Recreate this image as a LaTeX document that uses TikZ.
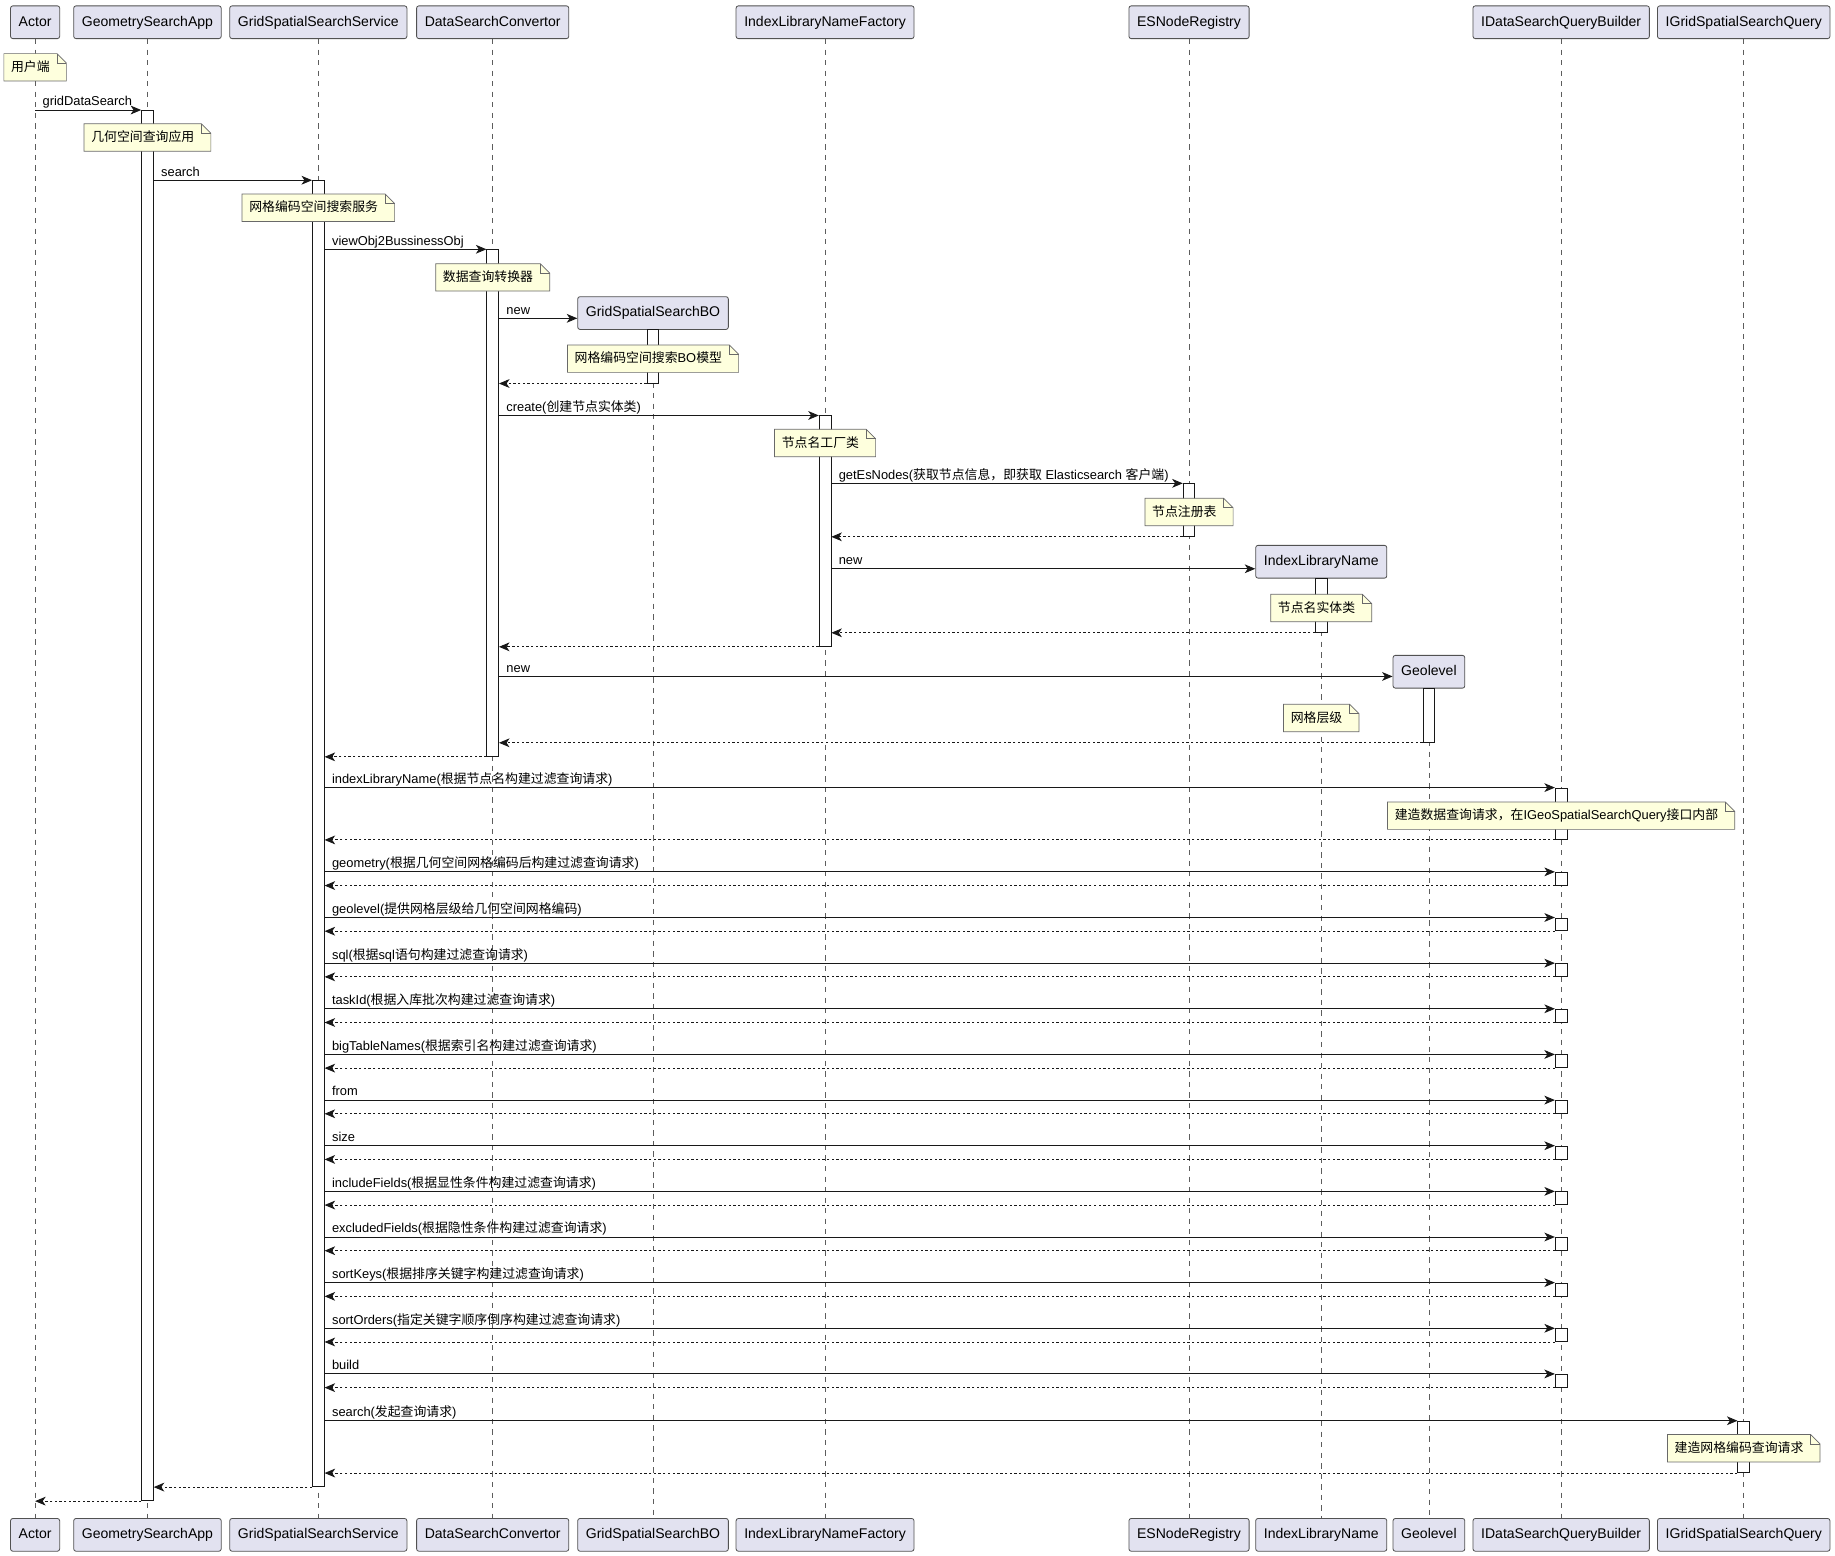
\documentclass[tikz,border=0pt]{standalone}
\usepackage{fontspec}
\setmainfont{Liberation Sans}
\newfontfamily\cjk{Noto Sans CJK SC}
\usetikzlibrary{arrows.meta,positioning}
\definecolor{partbg}{HTML}{E2E2F0}
\definecolor{notebg}{HTML}{FEFFDD}
\definecolor{ink}{HTML}{181818}
\newcommand{\zh}[1]{{\cjk #1}}
\newcommand{\en}[1]{{\rmfamily #1}}

\tikzset{
  part/.style={draw=ink!75, fill=partbg, rounded corners=2pt, line width=0.7pt,
    minimum height=28pt, inner xsep=7pt, text height=9pt, text depth=2.5pt,
    font=\fontsize{12}{14}\selectfont},
  life/.style={draw=ink!70, line width=0.6pt, dash pattern=on 4.5pt off 4.5pt},
  bar/.style={draw=ink, fill=white, line width=0.7pt, minimum width=10pt,
    inner sep=0pt, anchor=north},
  msg/.style={draw=ink, line width=0.8pt, -{Stealth[length=9pt,width=7.5pt,inset=2.5pt]}},
  ret/.style={msg, dash pattern=on 2pt off 2pt},
  lbl/.style={pos=0, anchor=base west, inner sep=0pt, xshift=6pt, yshift=3.5pt,
    font=\fontsize{11}{13}\selectfont},
  memo/.style={font=\cjk\fontsize{11}{13}\selectfont, minimum height=23pt,
    inner xsep=6pt, inner ysep=0pt, text height=9pt, text depth=2pt,
    execute at end node={\hspace{8pt}},
    append after command={\pgfextra{
      \filldraw[fill=notebg, draw=ink!65, line width=0.6pt]
        (\tikzlastnode.south west) -- (\tikzlastnode.north west)
        -- ([xshift=-8pt]\tikzlastnode.north east)
        -- ([yshift=-8pt]\tikzlastnode.north east)
        -- (\tikzlastnode.south east) -- cycle;
      \draw[ink!65, line width=0.6pt] ([xshift=-8pt]\tikzlastnode.north east)
        |- ([yshift=-8pt]\tikzlastnode.north east);
    }}}
}

\begin{document}
\begin{tikzpicture}[x=1pt, y=-1pt]
  \useasboundingbox (0,0) rectangle (1568,1328.75);

  % participants
  \node[part] (actor) at (30,19)     {Actor};
  \node[part] (app)   at (126,19)    {GeometrySearchApp};
  \node[part] (svc)   at (272,19)    {GridSpatialSearchService};
  \node[part] (conv)  at (421,19)    {DataSearchConvertor};
  \node[part] (bo)    at (558,267.5) {GridSpatialSearchBO};
  \node[part] (fac)   at (705,19)    {IndexLibraryNameFactory};
  \node[part] (reg)   at (1016,19)   {ESNodeRegistry};
  \node[part] (lib)   at (1129,480)  {IndexLibraryName};
  \node[part] (geo)   at (1221,574)  {Geolevel};
  \node[part] (bld)   at (1334,19)   {IDataSearchQueryBuilder};
  \node[part] (qry)   at (1490,19)   {IGridSpatialSearchQuery};

  % footer boxes and lifelines
  \foreach \n/\t in {actor/Actor, app/GeometrySearchApp, svc/GridSpatialSearchService,
      conv/DataSearchConvertor, bo/GridSpatialSearchBO, fac/IndexLibraryNameFactory,
      reg/ESNodeRegistry, lib/IndexLibraryName, geo/Geolevel,
      bld/IDataSearchQueryBuilder, qry/IGridSpatialSearchQuery} {
    \node[part] (\n-b) at (\n |- 0,1311.5) {\t};
    \draw[life] (\n) -- (\n-b);
  }

  % activations
  \node[bar, minimum height=1188] (appA)  at (app |- 0,94)   {};
  \node[bar, minimum height=1116] (svcA)  at (svc |- 0,154)  {};
  \node[bar, minimum height=433]  (convA) at (conv |- 0,213) {};
  \node[bar, minimum height=46]   (boA)   at (bo |- 0,281)   {};
  \node[bar, minimum height=197]  (facA)  at (fac |- 0,355)  {};
  \node[bar, minimum height=45]   (regA)  at (reg |- 0,413)  {};
  \node[bar, minimum height=46]   (libA)  at (lib |- 0,494)  {};
  \node[bar, minimum height=46]   (geoA)  at (geo |- 0,588)  {};
  \node[bar, minimum height=44]   (bldA)  at (bld |- 0,673)  {};
  \node[bar, minimum height=44]   (qryA)  at (qry |- 0,1214) {};

  % notes
  \node[memo] (n1)  at (actor |- 0,57.5) {用户端};
  \node[memo] (n2)  at (app |- 0,117.5)  {几何空间查询应用};
  \node[memo] (n3)  at (svc |- 0,177.5)  {网格编码空间搜索服务};
  \node[memo] (n4)  at (conv |- 0,237)   {数据查询转换器};
  \node[memo] (n5)  at (bo |- 0,306.5)   {网格编码空间搜索\en{BO}模型};
  \node[memo] (n6)  at (fac |- 0,378.5)  {节点名工厂类};
  \node[memo] (n7)  at (reg |- 0,437.5)  {节点注册表};
  \node[memo] (n8)  at (lib |- 0,519.5)  {节点名实体类};
  \node[memo] (n9)  at (lib |- 0,613.5)  {网格层级};
  \node[memo] (n10) at (bld |- 0,697)    {建造数据查询请求，在\en{IGeoSpatialSearchQuery}接口内部};
  \node[memo] (n11) at (qry |- 0,1237.5) {建造网格编码查询请求};

  % messages
  \draw[msg] (actor |- appA.north) -- node[lbl] {gridDataSearch} (appA.north west);
  \draw[msg] (appA.east |- svcA.north) -- node[lbl] {search} (svcA.north west);
  \draw[msg] (svcA.east |- convA.north) -- node[lbl] {viewObj2BussinessObj} (convA.north west);
  \draw[msg] (convA.east |- 0,272) -- node[lbl] {new} (bo.west |- 0,272);
  \draw[ret] (boA.south west) -- (convA.east |- boA.south);
  \draw[msg] (convA.east |- facA.north) -- node[lbl] {create(\zh{创建节点实体类})} (facA.north west);
  \draw[msg] (facA.east |- regA.north) -- node[lbl]
    {getEsNodes(\zh{获取节点信息，即获取} Elasticsearch \zh{客户端})} (regA.north west);
  \draw[ret] (regA.south west) -- (facA.east |- regA.south);
  \draw[msg] (facA.east |- 0,486) -- node[lbl] {new} (lib.west |- 0,486);
  \draw[ret] (libA.south west) -- (facA.east |- libA.south);
  \draw[ret] (facA.south west) -- (convA.east |- facA.south);
  \draw[msg] (convA.east |- 0,578) -- node[lbl] {new} (geo.west |- 0,578);
  \draw[ret] (geoA.south west) -- (convA.east |- geoA.south);
  \draw[ret] (convA.south west) -- (svcA.east |- convA.south);
  \draw[msg] (svcA.east |- bldA.north) -- node[lbl]
    {indexLibraryName(\zh{根据节点名构建过滤查询请求})} (bldA.north west);
  \draw[ret] (bldA.south west) -- (svcA.east |- bldA.south);

  % builder calls
  \foreach \y/\t in {745/{geometry(\zh{根据几何空间网格编码后构建过滤查询请求})},
      784/{geolevel(\zh{提供网格层级给几何空间网格编码})},
      823/{sql(\zh{根据}sql\zh{语句构建过滤查询请求})},
      862/{taskId(\zh{根据入库批次构建过滤查询请求})},
      901/{bigTableNames(\zh{根据索引名构建过滤查询请求})},
      940/{from}, 979/{size},
      1018/{includeFields(\zh{根据显性条件构建过滤查询请求})},
      1057/{excludedFields(\zh{根据隐性条件构建过滤查询请求})},
      1096/{sortKeys(\zh{根据排序关键字构建过滤查询请求})},
      1135/{sortOrders(\zh{指定关键字顺序倒序构建过滤查询请求})},
      1174/{build}} {
    \node[bar, minimum height=11] (call) at (bld |- 0,\y) {};
    \draw[msg] (svcA.east |- call.north) -- node[lbl] {\t} (call.north west);
    \draw[ret] (call.south west) -- (svcA.east |- call.south);
  }

  \draw[msg] (svcA.east |- qryA.north) -- node[lbl] {search(\zh{发起查询请求})} (qryA.north west);
  \draw[ret] (qryA.south west) -- (svcA.east |- qryA.south);
  \draw[ret] (svcA.south west) -- (appA.east |- svcA.south);
  \draw[ret] (appA.south west) -- (actor |- appA.south);
\end{tikzpicture}
\end{document}
